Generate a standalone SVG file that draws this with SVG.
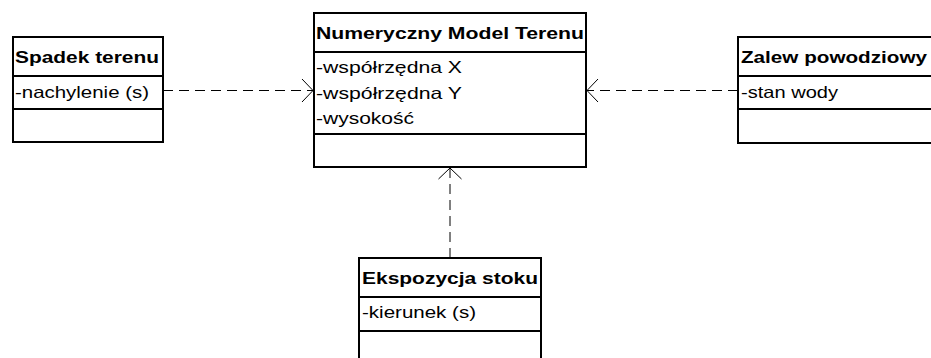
<svg xmlns="http://www.w3.org/2000/svg" width="931" height="358" viewBox="0 0 931 358">
<style>
.box{fill:#fff;stroke:#000;stroke-width:2}
.sep{stroke:#000;stroke-width:2}
.t{font-family:"Liberation Sans",Arial,sans-serif;font-size:16.5px;fill:#000}
.b{font-weight:bold}
.dep{stroke:#000;stroke-width:1;stroke-dasharray:10,6;fill:none}
</style>
<defs>
<marker id="open" viewBox="-12 -12 13 24" refX="0" refY="0" markerWidth="13" markerHeight="24" markerUnits="userSpaceOnUse" orient="auto">
<path d="M-11,-11.5 L0,0 L-11,11.5" fill="none" stroke="#000" stroke-width="1" stroke-dasharray="none"/>
</marker>
</defs>
<rect width="931" height="358" fill="#fff"/>
<g id="connectors">
<line class="dep" x1="163" y1="90.5" x2="313" y2="90.5" marker-end="url(#open)"/>
<line class="dep" x1="738" y1="90.5" x2="587" y2="90.5" marker-end="url(#open)"/>
<line class="dep" x1="450" y1="258" x2="450" y2="168" marker-end="url(#open)"/>
</g>
<g id="spadek">
<rect class="box" x="13" y="37" width="150" height="105"/>
<line class="sep" x1="13" y1="76" x2="163" y2="76"/>
<line class="sep" x1="13" y1="109" x2="163" y2="109"/>
<text class="t b" x="15" y="62.5" textLength="144" lengthAdjust="spacingAndGlyphs">Spadek terenu</text>
<text class="t" x="15" y="98" textLength="134" lengthAdjust="spacingAndGlyphs">-nachylenie (s)</text>
</g>
<g id="nmt">
<rect class="box" x="314" y="13" width="272" height="154"/>
<line class="sep" x1="314" y1="52" x2="586" y2="52"/>
<line class="sep" x1="314" y1="134" x2="586" y2="134"/>
<text class="t b" x="316" y="38.5" textLength="268" lengthAdjust="spacingAndGlyphs">Numeryczny Model Terenu</text>
<text class="t" x="316" y="73" textLength="146" lengthAdjust="spacingAndGlyphs">-współrzędna X</text>
<text class="t" x="316" y="98.5" textLength="146" lengthAdjust="spacingAndGlyphs">-współrzędna Y</text>
<text class="t" x="316" y="123.5" textLength="98" lengthAdjust="spacingAndGlyphs">-wysokość</text>
</g>
<g id="zalew">
<rect class="box" x="738" y="37" width="205" height="106"/>
<line class="sep" x1="738" y1="76" x2="943" y2="76"/>
<line class="sep" x1="738" y1="109" x2="943" y2="109"/>
<text class="t b" x="741" y="62.5" textLength="186" lengthAdjust="spacingAndGlyphs">Zalew powodziowy</text>
<text class="t" x="741" y="98" textLength="97" lengthAdjust="spacingAndGlyphs">-stan wody</text>
</g>
<g id="ekspozycja">
<rect class="box" x="359" y="258" width="182" height="106"/>
<line class="sep" x1="359" y1="297" x2="541" y2="297"/>
<line class="sep" x1="359" y1="331" x2="541" y2="331"/>
<text class="t b" x="362" y="284" textLength="176" lengthAdjust="spacingAndGlyphs">Ekspozycja stoku</text>
<text class="t" x="362" y="318" textLength="114" lengthAdjust="spacingAndGlyphs">-kierunek (s)</text>
</g>
</svg>
